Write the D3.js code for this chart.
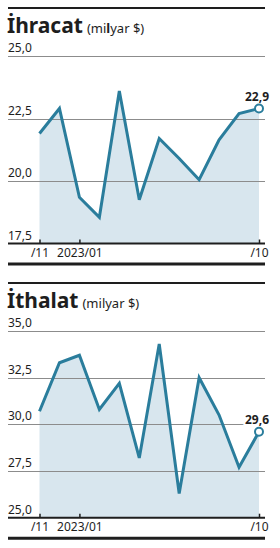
<!DOCTYPE html>
<html>
<head>
<meta charset="utf-8">
<script src="https://cdn.jsdelivr.net/npm/d3@7"></script>
<style>
  body { margin:0; background:#fff; }
  text { font-family:"Noto Sans", sans-serif; }
</style>
</head>
<body>
<script>
// months shown on x, Nov 2022 .. Oct 2023
var months = ["2022/11","2022/12","2023/01","2023/02","2023/03","2023/04","2023/05","2023/06","2023/07","2023/08","2023/09","2023/10"];
var tickMonths = ["2022/11","2023/01","2023/10"];
var tickNames = ["/11","2023/01","/10"];

// ihracat (exports), milyar $
var exportVals = [21.9, 22.9, 19.35, 18.55, 23.6, 19.25, 21.7, 20.9, 20.05, 21.65, 22.7, 22.9];
var exportTicks = [17.5, 20, 22.5, 25];

// ithalat (imports), milyar $
var importVals = [30.7, 33.3, 33.7, 30.8, 32.2, 28.2, 34.3, 26.3, 32.5, 30.5, 27.7, 29.6];
var importTicks = [25, 27.5, 30, 32.5, 35];

var W = 280, H = 548;
var lineCol = "#2a7d9c", fillCol = "#d8e6ee", gridCol = "#8c8c8c", ink = "#1e1e1e";
var fmt = function(v){ return d3.format(".1f")(v).replace(".", ","); };

var svg = d3.select("body").append("svg").attr("width", W).attr("height", H);

function panel(top, title, vals, ticks, plotH, boldL){
    var g = svg.append("g").attr("transform", "translate(0," + top + ")");
    var x = d3.scalePoint().domain(months).range([39.5, 259]);
    var y = d3.scaleLinear().domain(d3.extent(ticks)).range([48 + plotH, 48]);
    var base = 48 + plotH;

    g.append("line").attr("x1", 8).attr("x2", 265).attr("y1", 0).attr("y2", 0)
        .attr("stroke", ink).attr("stroke-width", 2.2);

    var t = g.append("text").attr("x", 7).attr("y", 25).attr("fill", ink);
    t.append("tspan").attr("font-size", 21).attr("font-weight", "bold").text(title);
    var sub = t.append("tspan").attr("font-size", 13).attr("dx", 4);
    if(boldL){
        sub.append("tspan").text("(mi");
        sub.append("tspan").attr("font-weight","bold").text("l");
        sub.append("tspan").text("yar $)");
    } else sub.text("(milyar $)");

    // area
    g.append("path").datum(vals)
        .attr("fill", fillCol)
        .attr("d", d3.area().x(function(d,i){ return x(months[i]); }).y0(base).y1(function(d){ return y(d); }));

    // grid
    g.selectAll(".grid").data(ticks.slice(1)).enter().append("line")
        .attr("x1", 8).attr("x2", 265)
        .attr("y1", function(d){ return Math.round(y(d)) + 0.5; })
        .attr("y2", function(d){ return Math.round(y(d)) + 0.5; })
        .attr("stroke", gridCol).attr("stroke-width", 1.2);

    g.selectAll(".ylab").data(ticks).enter().append("text")
        .attr("x", 8).attr("y", function(d){ return y(d) - 4; })
        .attr("font-size", 12).attr("fill", ink).text(fmt);

    // line
    g.append("path").datum(vals)
        .attr("fill", "none").attr("stroke", lineCol).attr("stroke-width", 3)
        .attr("stroke-linejoin", "miter")
        .attr("d", d3.line().x(function(d,i){ return x(months[i]); }).y(function(d){ return y(d); }));

    // last value
    var last = vals[vals.length-1], lx = x(months[months.length-1]), ly = y(last);
    g.append("text").attr("x", lx - 2).attr("y", ly - 8).attr("text-anchor", "middle")
        .attr("font-size", 12).attr("font-weight", "bold").attr("fill", ink)
        .attr("stroke", "#fff").attr("stroke-width", 4).attr("paint-order", "stroke")
        .text(fmt(last));
    g.append("circle").attr("cx", lx).attr("cy", ly).attr("r", 4)
        .attr("fill", "#fff").attr("stroke", lineCol).attr("stroke-width", 2);

    // x axis
    var ax = g.append("g").attr("transform", "translate(0," + base + ")")
        .call(d3.axisBottom(x).tickValues(tickMonths).tickSizeInner(-4).tickSizeOuter(0).tickPadding(5)
            .tickFormat(function(d){ return tickNames[tickMonths.indexOf(d)]; }));
    ax.select(".domain").remove();
    ax.selectAll(".tick line").attr("stroke", ink).attr("stroke-width", 1.5);
    ax.selectAll(".tick text").attr("font-size", 12).attr("fill", ink).attr("font-family", "Noto Sans");
    g.append("line").attr("x1", 8).attr("x2", 265).attr("y1", base).attr("y2", base)
        .attr("stroke", ink).attr("stroke-width", 2);

    g.append("line").attr("x1", 8).attr("x2", 265).attr("y1", base + 20.5).attr("y2", base + 20.5)
        .attr("stroke", ink).attr("stroke-width", 3);
}

panel(8, "İhracat", exportVals, exportTicks, 187.5, true);
panel(283, "İthalat", importVals, importTicks, 186.7, false);
</script>
</body>
</html>
